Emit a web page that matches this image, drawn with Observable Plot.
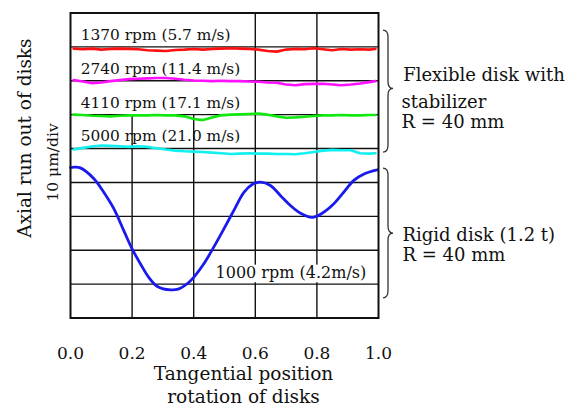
<!DOCTYPE html>
<html><head><meta charset="utf-8">
<script src="https://cdn.jsdelivr.net/npm/d3@7"></script>
<script src="https://cdn.jsdelivr.net/npm/@observablehq/plot@0.6"></script>
<style>body{margin:0;background:#fff} svg{display:block}</style>
</head><body><div id="chart"></div>
<script>
// ---- data (y in divisions of 10 µm) ----
const xTicks = [0, 0.2, 0.4, 0.6, 0.8, 1.0];
const yGrid = [0, 1, 2, 3, 4, 5, 6, 7, 8, 9];
const xFlex = [0.01,0.04,0.07,0.10,0.13,0.16,0.19,0.22,0.25,0.28,0.31,0.34,0.37,0.40,0.43,0.46,0.49,0.52,0.55,0.58,0.61,0.64,0.67,0.70,0.73,0.76,0.79,0.82,0.85,0.88,0.91,0.94,0.97,0.99];
const red1370 = [7.95,7.93,7.95,7.92,7.94,7.95,7.94,7.93,7.90,7.89,7.88,7.91,7.92,7.94,7.92,7.94,7.95,7.96,7.95,7.94,7.92,7.88,7.86,7.92,7.94,7.93,7.96,7.93,7.90,7.94,7.92,7.93,7.92,7.94];
const mag2740 = [7.02,6.98,6.93,6.95,6.99,7.02,7.05,7.06,7.07,7.08,7.08,7.06,7.03,7.01,7.00,6.99,7.00,6.99,6.99,6.98,6.97,6.95,6.94,6.89,6.87,6.90,6.91,6.91,6.89,6.87,6.89,6.92,6.96,6.99];
const grn4110 = [6.00,5.99,5.97,5.96,5.95,5.97,5.98,5.98,5.98,5.99,5.98,5.98,5.95,5.87,5.84,5.92,5.98,6.00,6.01,6.02,6.03,6.00,5.95,5.91,5.92,5.94,5.96,5.98,5.98,5.99,5.98,5.98,5.99,5.99];
const cyn5000 = [4.97,5.02,5.06,5.09,5.08,5.07,5.05,5.07,5.05,5.01,4.97,4.94,4.92,4.91,4.90,4.88,4.86,4.84,4.85,4.86,4.85,4.85,4.84,4.84,4.83,4.86,4.90,4.94,4.96,4.95,4.95,4.86,4.85,4.86];
const xRigid = [0.0,0.011,0.032,0.076,0.108,0.141,0.173,0.200,0.227,0.254,0.282,0.325,0.352,0.379,0.400,0.433,0.465,0.498,0.530,0.563,0.590,0.617,0.649,0.682,0.714,0.747,0.785,0.817,0.855,0.887,0.920,0.953,0.996];
const blue1000 = [4.44,4.45,4.43,4.11,3.71,3.22,2.58,2.04,1.60,1.20,0.93,0.83,0.86,1.01,1.20,1.60,2.09,2.63,3.17,3.71,3.94,4.01,3.91,3.61,3.32,3.09,2.97,3.09,3.37,3.71,4.06,4.25,4.37];
const flexLabels = ["1370 rpm (5.7 m/s)", "2740 rpm (11.4 m/s)", "4110 rpm (17.1 m/s)", "5000 rpm (21.0 m/s)"];
const flexLevels = [8, 7, 6, 5];
const rigidLabel = "1000 rpm (4.2m/s)";
const groupFlex = ["Flexible disk with", "stabilizer", "R = 40 mm"];
const groupRigid = ["Rigid disk (1.2 t)", "R = 40 mm"];
const yTitle = ["Axial run out of disks", "10 μm/div"];
const xTitle = "Tangential position\nrotation of disks";

const toPts = (xs, ys) => xs.map((x, i) => ({x, y: ys[i]}));
const FONT = "DejaVu Serif";

const plot = Plot.plot({
  width: 570, height: 411,
  marginLeft: 70, marginRight: 192, marginTop: 12.5, marginBottom: 93.5,
  x: {domain: [0, 1]},
  y: {domain: [0, 9], axis: null},
  style: {fontFamily: FONT, fontSize: "16px", color: "#111", background: "#fff"},
  marks: [
    Plot.ruleY(yGrid, {stroke: "#111", strokeWidth: 1.4}),
    Plot.ruleX([0.6, 0.8], {stroke: "#111", strokeWidth: 1.4}),
    Plot.ruleX([0.2, 0.4], {y1: 0, y2: 6, stroke: "#111", strokeWidth: 1.4}),
    Plot.rect([rigidLabel], {x1: 0.46, x2: 0.975, y1: 1.04, y2: 1.56, fill: "#fff"}),
    Plot.line(toPts(xFlex, red1370), {x: "x", y: "y", stroke: "#ff1010", strokeWidth: 2.6}),
    Plot.line(toPts(xFlex, mag2740), {x: "x", y: "y", stroke: "#ff10ff", strokeWidth: 2.6}),
    Plot.line(toPts(xFlex, grn4110), {x: "x", y: "y", stroke: "#10e810", strokeWidth: 2.6}),
    Plot.line(toPts(xFlex, cyn5000), {x: "x", y: "y", stroke: "#10f0f0", strokeWidth: 2.6}),
    Plot.line(toPts(xRigid, blue1000), {x: "x", y: "y", stroke: "#1a1aee", strokeWidth: 2.8, curve: "catmull-rom"}),
    Plot.frame({stroke: "#111", strokeWidth: 2}),
    Plot.axisX(xTicks, {tickSize: 0, tickPadding: 29, tickFormat: d3.format(".1f"), fontSize: 17, label: null}),
    Plot.text(flexLabels, {x: 0.033, y: (d, i) => flexLevels[i] + 0.21, text: d => d, textAnchor: "start", lineAnchor: "bottom", fontSize: 15.4, fill: "#111"}),
    Plot.text([rigidLabel], {x: 0.471, y: 1.17, text: d => d, textAnchor: "start", lineAnchor: "bottom", fontSize: 16, fill: "#111"}),
    Plot.text(groupFlex, {x: (d, i) => i === 0 ? 1.08 : 1.075, y: (d, i) => [6.98, 6.20, 5.61][i], text: d => d, textAnchor: "start", lineAnchor: "bottom", fontSize: 18, fill: "#111"}),
    Plot.text(groupRigid, {x: 1.078, y: (d, i) => [2.26, 1.67][i], text: d => d, textAnchor: "start", lineAnchor: "bottom", fontSize: 18, fill: "#111"}),
    Plot.text([xTitle], {x: 0.5617, y: -2.52, text: d => d, textAnchor: "middle", lineAnchor: "bottom", lineHeight: 1.25, fontSize: 18.5, fill: "#111"}),
    Plot.text(yTitle, {x: (d, i) => [-0.146, -0.058][i], y: (d, i) => [5.31, 4.59][i], text: d => d, rotate: -90, textAnchor: "middle", lineAnchor: "middle", fontSize: (d, i) => [18.5, 15.5][i], fill: "#111"})
  ]
});

// curly braces drawn in the chart's own scale space
const sx = plot.scale("x"), sy = plot.scale("y");
const braces = [{top: 8.48, tip: 6.76, bottom: 4.88}, {top: 4.41, tip: 2.49, bottom: 0.58}];
const svg = d3.select(plot);
braces.forEach(b => {
  const x0 = sx.apply(1) + 10, y0 = sy.apply(b.top), ym = sy.apply(b.tip), y1 = sy.apply(b.bottom);
  const path = `M${x0-5},${y0} Q${x0},${y0} ${x0},${y0+7} L${x0},${ym-7} Q${x0},${ym} ${x0+5},${ym} Q${x0},${ym} ${x0},${ym+7} L${x0},${y1-7} Q${x0},${y1} ${x0-5},${y1}`;
  svg.append("path").attr("d", path).attr("fill", "none").attr("stroke", "#333").attr("stroke-width", 1.3);
});
document.getElementById("chart").append(plot);
</script>
</body></html>
